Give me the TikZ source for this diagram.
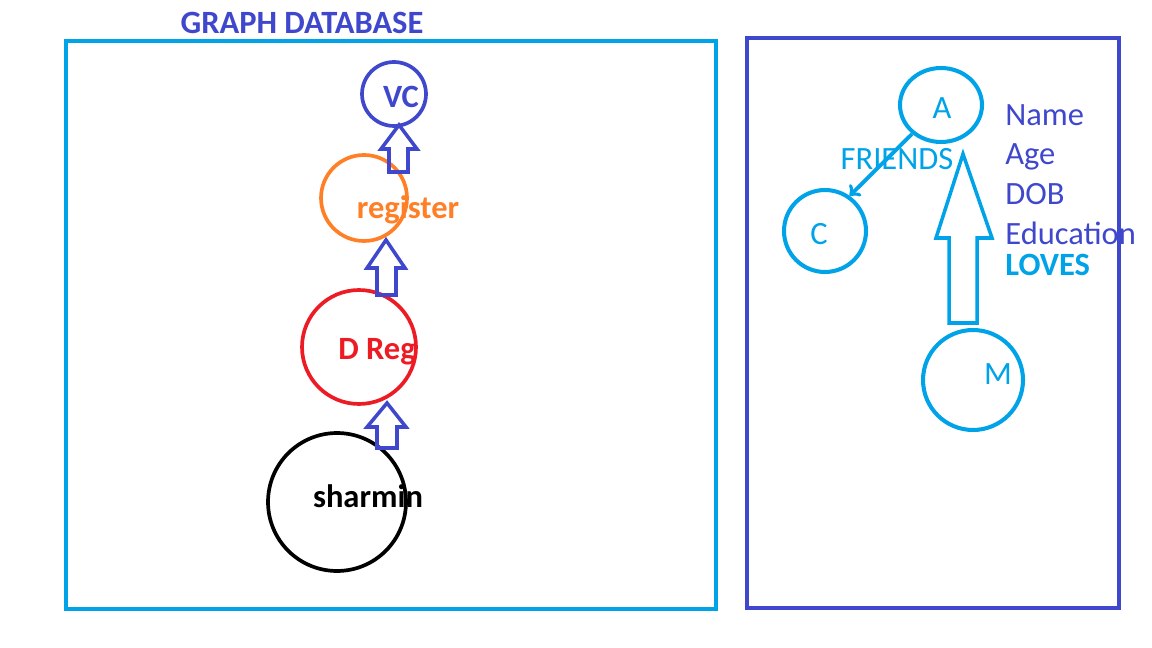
\documentclass[tikz,border=0pt]{standalone}
\usepackage{fontspec}
\setmainfont{Carlito}
\usetikzlibrary{shapes.geometric}
\definecolor{gdcyan}{HTML}{00A2E8}
\definecolor{gdblue}{HTML}{3F48CC}
\definecolor{gdorange}{HTML}{FF7F27}
\definecolor{gdred}{HTML}{ED1C24}
\begin{document}
\begin{tikzpicture}[x=0.02cm, y=-0.02cm]
\tikzset{rond/.style={draw, circle, inner sep=0pt, line width=2.1pt},
  mot/.style={font=\fontsize{18.5}{22}\selectfont, inner sep=0pt, anchor=base},
  gras/.style={mot, font=\fontsize{18.5}{22}\selectfont\bfseries},
  bloc/.style={draw, line width=2pt, line join=miter}}
\useasboundingbox (0,0) rectangle (1152,648);
\draw[gdcyan, line width=2.6pt] (66,41) rectangle (716,609);
\draw[gdblue, line width=2.6pt] (747,38) rectangle (1119,608);
\node[gras, text=gdblue] (titre) at (302,34) {GRAPH DATABASE};
\node[rond, draw=gdblue, minimum size=1.28cm] (VC) at (394,94) {};
\node[rond, draw=gdorange, minimum size=1.72cm] (R) at (364,198) {};
\node[rond, draw=gdred, minimum size=2.28cm] (DR) at (359,347) {};
\node[rond, draw=black, minimum size=2.76cm] (S) at (337,502) {};
\node[gras, text=gdblue] (tVC) at (401,108) {VC};
\node[gras, text=gdorange] (tR) at (408,219) {register};
\node[gras, text=gdred] (tDR) at (377,359) {D Reg};
\node[gras, text=black] (tS) at (368,507) {sharmin};
\draw[bloc, gdblue] (387,403) -- (406,427) -- (397,427) -- (397,448) -- (377,448) -- (377,427) -- (367,427) -- cycle;
\draw[bloc, gdblue] (386,240) -- (405,268) -- (396,268) -- (396,295) -- (377,295) -- (377,268) -- (367,268) -- cycle;
\draw[bloc, gdblue] (399,125) -- (417,149) -- (408,149) -- (408,172) -- (389,172) -- (389,149) -- (381,149) -- cycle;
\node[draw=gdcyan, ellipse, inner sep=0pt, line width=2.3pt, minimum width=1.64cm, minimum height=1.48cm] (A) at (941,105) {};
\node[rond, draw=gdcyan, line width=2.3pt, minimum size=1.64cm] (C) at (825,231) {};
\node[rond, draw=gdcyan, line width=2.3pt, minimum size=2cm] (M) at (973,380) {};
\node[mot, text=gdcyan] (tA) at (942,119) {A};
\node[mot, text=gdcyan] (tC) at (819,245) {C};
\node[mot, text=gdcyan] (tM) at (998,384) {M};
\draw[gdcyan, line width=2.2pt, ->] (A.225) -- (C.55);
\node[mot, text=gdcyan] (amis) at (897,170) {FRIENDS};
\draw[bloc, gdcyan] (963,154) -- (992,238) -- (977,238) -- (977,323) -- (949,323) -- (949,238) -- (936,238) -- cycle;
\node[mot, text=gdblue, anchor=base west] (nom) at (1005,126) {Name};
\node[mot, text=gdblue, anchor=base west] (age) at (1005,165) {Age};
\node[mot, text=gdblue, anchor=base west] (dob) at (1005,205) {DOB};
\node[mot, text=gdblue, anchor=base west] (edu) at (1005,245) {Education};
\node[gras, text=gdcyan, anchor=base west] (aime) at (1005,276) {LOVES};
\end{tikzpicture}
\end{document}
